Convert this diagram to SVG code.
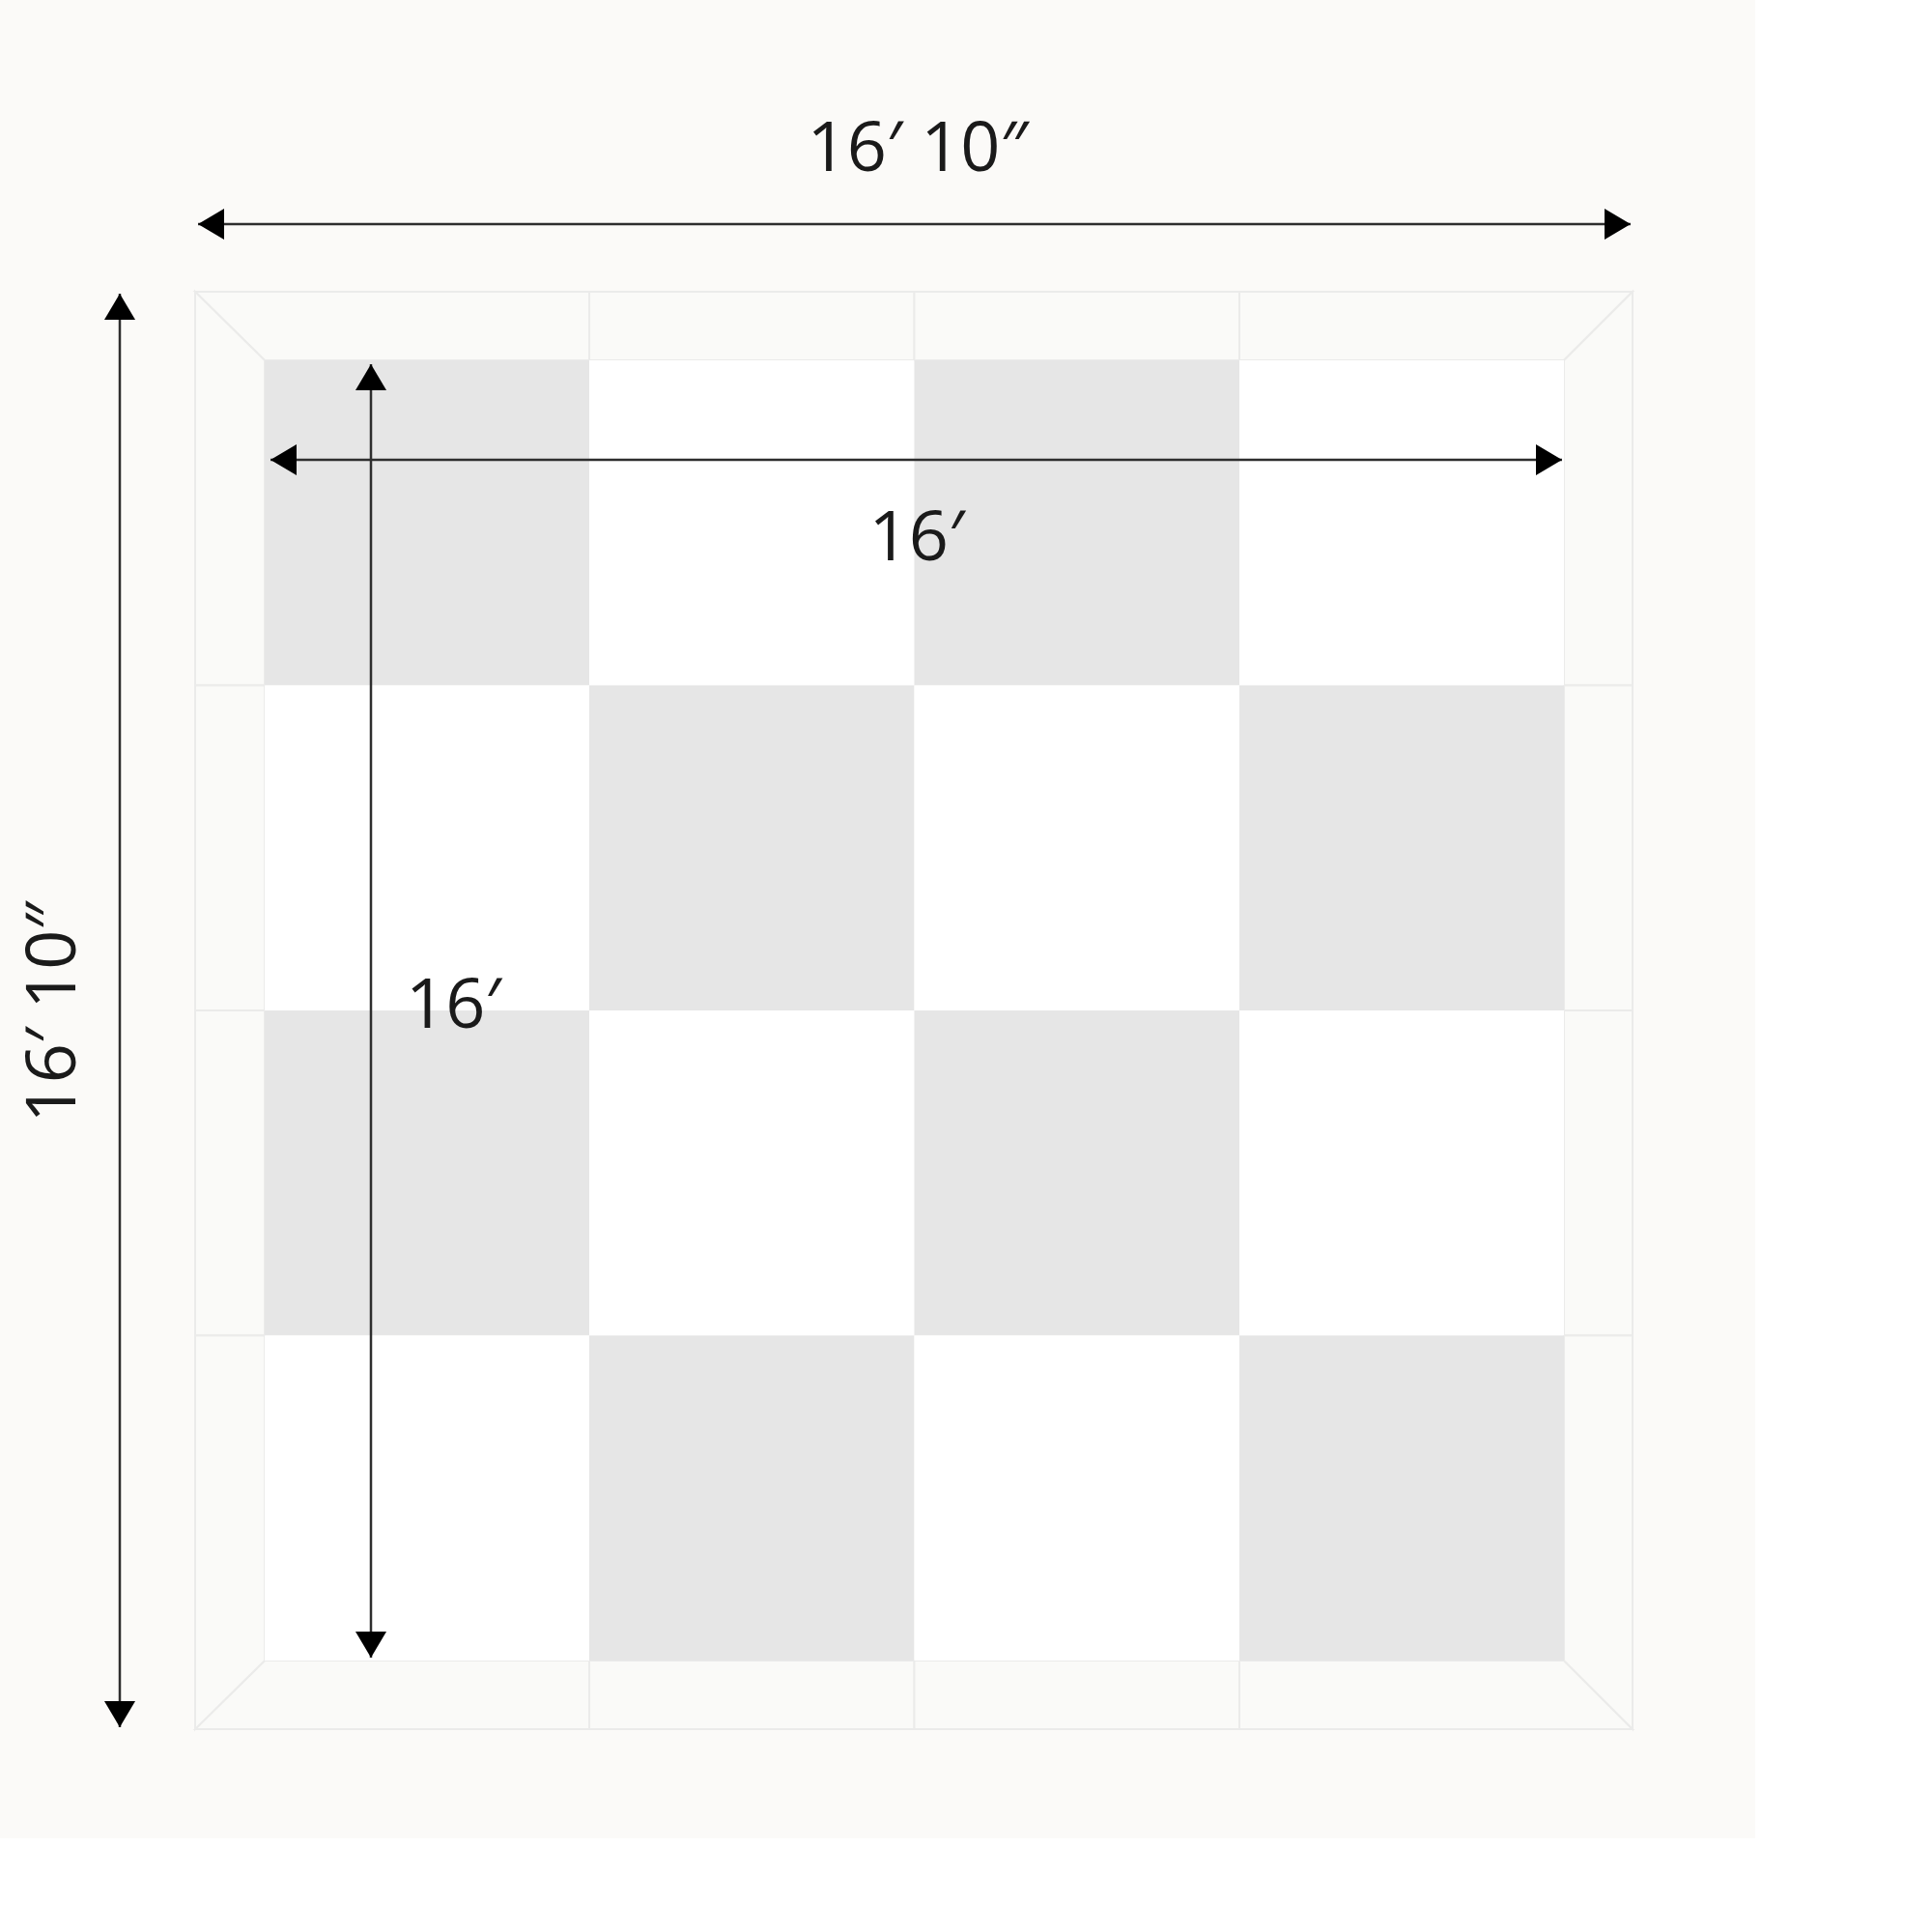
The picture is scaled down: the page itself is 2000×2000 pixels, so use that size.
<svg xmlns="http://www.w3.org/2000/svg" width="2000" height="2000" viewBox="0 0 2000 2000">
  <style>
    .frame { fill: #fafaf8; stroke: #ebebea; stroke-width: 2; }
    .dark { fill: #e6e6e6; }
    .light { fill: #ffffff; }
    .dim { fill: none; stroke: #2e2e2e; stroke-width: 2.5; }
    .lbl { font-family: "Open Sans", "Liberation Sans", sans-serif; font-size: 72px; fill: #1a1a1a; }
  </style>
  <defs>
    <marker id="ah" viewBox="0 0 27 32" refX="27" refY="16" markerWidth="27" markerHeight="32" markerUnits="userSpaceOnUse" orient="auto-start-reverse">
      <path d="M0,0 L27,16 L0,32 z" fill="#000"/>
    </marker>
  </defs>
  <rect width="2000" height="2000" fill="#ffffff"/>
  <rect x="0" y="0" width="1817" height="1903" fill="#fbfaf8"/>

  <g id="frame">
    <polygon class="frame" points="202,302 610,302 610,373 274,373"/>
    <rect class="frame" x="610" y="302" width="336.5" height="71"/>
    <rect class="frame" x="946.5" y="302" width="336.5" height="71"/>
    <polygon class="frame" points="1283,302 1690,302 1619,373 1283,373"/>
    <polygon class="frame" points="274,1719 610,1719 610,1790 202,1790"/>
    <rect class="frame" x="610" y="1719" width="336.5" height="71"/>
    <rect class="frame" x="946.5" y="1719" width="336.5" height="71"/>
    <polygon class="frame" points="1283,1719 1619,1719 1690,1790 1283,1790"/>
    <polygon class="frame" points="202,302 274,373 274,709.5 202,709.5"/>
    <rect class="frame" x="202" y="709.5" width="72" height="336.5"/>
    <rect class="frame" x="202" y="1046" width="72" height="336.5"/>
    <polygon class="frame" points="202,1382.5 274,1382.5 274,1719 202,1790"/>
    <polygon class="frame" points="1690,302 1690,709.5 1619,709.5 1619,373"/>
    <rect class="frame" x="1619" y="709.5" width="71" height="336.5"/>
    <rect class="frame" x="1619" y="1046" width="71" height="336.5"/>
    <polygon class="frame" points="1619,1382.5 1690,1382.5 1690,1790 1619,1719"/>
  </g>

  <g id="floor">
    <rect class="dark" x="274" y="373" width="336" height="336.5"/>
    <rect class="light" x="610" y="373" width="336.5" height="336.5"/>
    <rect class="dark" x="946.5" y="373" width="336.5" height="336.5"/>
    <rect class="light" x="1283" y="373" width="336" height="336.5"/>

    <rect class="light" x="274" y="709.5" width="336" height="336.5"/>
    <rect class="dark" x="610" y="709.5" width="336.5" height="336.5"/>
    <rect class="light" x="946.5" y="709.5" width="336.5" height="336.5"/>
    <rect class="dark" x="1283" y="709.5" width="336" height="336.5"/>

    <rect class="dark" x="274" y="1046" width="336" height="336.5"/>
    <rect class="light" x="610" y="1046" width="336.5" height="336.5"/>
    <rect class="dark" x="946.5" y="1046" width="336.5" height="336.5"/>
    <rect class="light" x="1283" y="1046" width="336" height="336.5"/>

    <rect class="light" x="274" y="1382.5" width="336" height="336.5"/>
    <rect class="dark" x="610" y="1382.5" width="336.5" height="336.5"/>
    <rect class="light" x="946.5" y="1382.5" width="336.5" height="336.5"/>
    <rect class="dark" x="1283" y="1382.5" width="336" height="336.5"/>
  </g>

  <g id="connectors">
    <line class="dim" x1="205" y1="232" x2="1688" y2="232" marker-start="url(#ah)" marker-end="url(#ah)"/>
    <line class="dim" x1="124" y1="304" x2="124" y2="1788" marker-start="url(#ah)" marker-end="url(#ah)"/>
    <line class="dim" x1="280" y1="476" x2="1617" y2="476" marker-start="url(#ah)" marker-end="url(#ah)"/>
    <line class="dim" x1="384" y1="377" x2="384" y2="1716" marker-start="url(#ah)" marker-end="url(#ah)"/>
  </g>

  <g id="label-outer-width">
    <text class="lbl" x="950" y="177" text-anchor="middle">16′ 10″</text>
  </g>
  <g id="label-outer-height">
    <text class="lbl" x="0" y="0" text-anchor="middle" transform="translate(78,1048) rotate(-90)">16′ 10″</text>
  </g>
  <g id="label-inner-width">
    <text class="lbl" x="949" y="580" text-anchor="middle">16′</text>
  </g>
  <g id="label-inner-height">
    <text class="lbl" x="420" y="1064">16′</text>
  </g>
</svg>
